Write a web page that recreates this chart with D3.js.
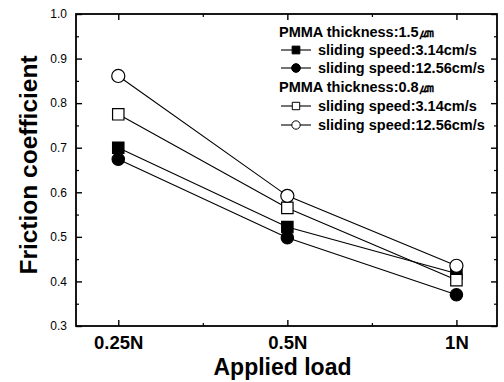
<!DOCTYPE html>
<html lang="en">
<head>
    <meta charset="UTF-8">
    <title>Friction coefficient</title>
    <script type="text/javascript" src="https://cdn.jsdelivr.net/npm/d3@7"></script>
    <style type="text/css">
        body { margin: 0; background: #fff; }
        svg { display: block; font-family: "Liberation Sans", Arial, sans-serif; }
    </style>
</head>
<body>
    <script type="text/javascript">
        // data
        var loads = ["0.25N", "0.5N", "1N"];
        var yTicks = [0.3, 0.4, 0.5, 0.6, 0.7, 0.8, 0.9, 1.0];
        var thick15 = "PMMA thickness:1.5\u339B";
        var thick08 = "PMMA thickness:0.8\u339B";
        var speedLabels = ["sliding speed:3.14cm/s", "sliding speed:12.56cm/s"];
        var sq15 = [0.700, 0.522, 0.418];   // filled square
        var ci15 = [0.674, 0.498, 0.370];   // filled circle
        var sq08 = [0.775, 0.565, 0.403];   // open square
        var ci08 = [0.861, 0.592, 0.435];   // open circle

        var w = 504, h = 382;
        var pLeft = 76, pRight = 497, pTop = 14, pBottom = 326;

        var svg = d3.select("body").append("svg")
            .attr("width", w)
            .attr("height", h);

        var x = d3.scaleLinear().domain([-0.25, 2.24]).range([pLeft, pRight]);
        var y = d3.scaleLinear().domain([0.3, 1.0]).range([pBottom, pTop]);

        //minor ticks
        var yMinor = [0.35, 0.45, 0.55, 0.65, 0.75, 0.85, 0.95];
        var xMinor = [0.5, 1.5];

        function drawAxis(axis, tx, ty, major) {
            var g = svg.append("g")
                .attr("transform", "translate(" + tx + "," + ty + ")")
                .call(axis);
            g.select(".domain").remove();
            g.selectAll("line").attr("stroke", "#000").attr("stroke-width", major ? 1.4 : 1.2);
            return g;
        }

        // bottom
        var gb = drawAxis(d3.axisBottom(x).tickValues([0, 1, 2]).tickSize(-6)
            .tickFormat(function(d) { return loads[d]; }), 0, pBottom, true);
        gb.selectAll("text")
            .attr("font-size", "18.5px")
            .attr("font-weight", "bold")
            .attr("fill", "#000")
            .attr("dy", "0.71em")
            .attr("y", 10);
        drawAxis(d3.axisBottom(x).tickValues(xMinor).tickSize(-3).tickFormat(""), 0, pBottom, false);
        // top
        drawAxis(d3.axisTop(x).tickValues([0, 1, 2]).tickSize(-6).tickFormat(""), 0, pTop, true);
        drawAxis(d3.axisTop(x).tickValues(xMinor).tickSize(-3).tickFormat(""), 0, pTop, false);
        // left
        var gl = drawAxis(d3.axisLeft(y).tickValues(yTicks).tickSize(-6).tickPadding(9)
            .tickFormat(d3.format(".1f")), pLeft, 0, true);
        gl.selectAll("text")
            .attr("font-size", "12px")
            .attr("fill", "#000");
        drawAxis(d3.axisLeft(y).tickValues(yMinor).tickSize(-3).tickFormat(""), pLeft, 0, false);
        // right
        drawAxis(d3.axisRight(y).tickValues(yTicks).tickSize(-6).tickFormat(""), pRight, 0, true);
        drawAxis(d3.axisRight(y).tickValues(yMinor).tickSize(-3).tickFormat(""), pRight, 0, false);

        // frame
        svg.append("rect")
            .attr("x", pLeft)
            .attr("y", pTop)
            .attr("width", pRight - pLeft)
            .attr("height", pBottom - pTop)
            .attr("fill", "none")
            .attr("stroke", "#000")
            .attr("stroke-width", 1.8);

        // axis titles
        svg.append("text")
            .attr("x", (pLeft + pRight) / 2 - 4)
            .attr("y", 375)
            .attr("text-anchor", "middle")
            .attr("font-size", "23px")
            .attr("font-weight", "bold")
            .text("Applied load");

        svg.append("text")
            .attr("transform", "translate(37," + 165 + ") rotate(-90)")
            .attr("text-anchor", "middle")
            .attr("font-size", "24.5px")
            .attr("font-weight", "bold")
            .text("Friction coefficient");

        var series = [
            { values: sq15, shape: d3.symbolSquare, size: 130, fill: "#000" },
            { values: ci15, shape: d3.symbolCircle, size: 120, fill: "#000" },
            { values: sq08, shape: d3.symbolSquare, size: 130, fill: "#fff" },
            { values: ci08, shape: d3.symbolCircle, size: 135, fill: "#fff" }
        ];

        var line = d3.line()
            .x(function(d, i) { return x(i); })
            .y(function(d) { return y(d); });

        //lines first
        series.forEach(function(s) {
            svg.append("path")
                .datum(s.values)
                .attr("d", line)
                .attr("fill", "none")
                .attr("stroke", "#000")
                .attr("stroke-width", 1.1);
        });

        //then markers
        series.forEach(function(s) {
            svg.selectAll(null)
                .data(s.values)
                .enter()
                .append("path")
                .attr("transform", function(d, i) {
                    return "translate(" + x(i) + "," + y(d) + ")";
                })
                .attr("d", d3.symbol().type(s.shape).size(s.size))
                .attr("fill", s.fill)
                .attr("stroke", "#000")
                .attr("stroke-width", 1.2);
        });

        // legend
        var legend = svg.append("g").attr("font-weight", "bold").attr("font-size", "14.5px");
        var rows = [
            { text: thick15, y: 32 },
            { text: speedLabels[0], y: 50, s: series[0] },
            { text: speedLabels[1], y: 68, s: series[1] },
            { text: thick08, y: 87 },
            { text: speedLabels[0], y: 106, s: series[2] },
            { text: speedLabels[1], y: 125, s: series[3] }
        ];
        rows.forEach(function(r) {
            if (!r.s) {
                legend.append("text")
                    .attr("x", 279)
                    .attr("y", r.y + 5)
                    .text(r.text);
                return;
            }
            legend.append("line")
                .attr("x1", 281).attr("x2", 311)
                .attr("y1", r.y).attr("y2", r.y)
                .attr("stroke", "#000")
                .attr("stroke-width", 1.1);
            legend.append("path")
                .attr("transform", "translate(296," + r.y + ")")
                .attr("d", d3.symbol().type(r.s.shape).size(r.s.fill === "#000" ? 60 : 55))
                .attr("fill", r.s.fill)
                .attr("stroke", "#000")
                .attr("stroke-width", 1);
            legend.append("text")
                .attr("x", 318)
                .attr("y", r.y + 5)
                .text(r.text);
        });
    </script>
</body>
</html>
